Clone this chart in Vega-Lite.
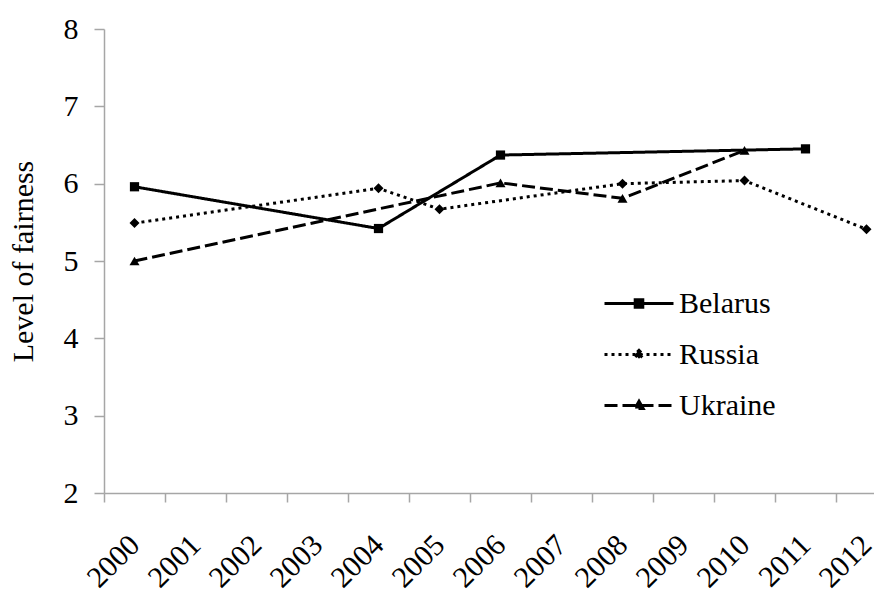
{
  "$schema": "https://vega.github.io/schema/vega-lite/v6.json",
  "width": 770,
  "height": 464,
  "autosize": {"type": "none"},
  "padding": {"left": 104, "top": 29, "right": 0, "bottom": 97},
  "background": "white",
  "config": {"view": {"stroke": null}, "font": "'Liberation Serif', 'Times New Roman', serif"},
  "data": {
    "values": [
      {"country": "Belarus", "year": "2000", "value": 5.96},
      {"country": "Belarus", "year": "2004", "value": 5.42},
      {"country": "Belarus", "year": "2006", "value": 6.37},
      {"country": "Belarus", "year": "2011", "value": 6.45},
      {"country": "Russia", "year": "2000", "value": 5.49},
      {"country": "Russia", "year": "2004", "value": 5.94},
      {"country": "Russia", "year": "2005", "value": 5.67},
      {"country": "Russia", "year": "2008", "value": 6.0},
      {"country": "Russia", "year": "2010", "value": 6.04},
      {"country": "Russia", "year": "2012", "value": 5.41},
      {"country": "Ukraine", "year": "2000", "value": 5.0},
      {"country": "Ukraine", "year": "2006", "value": 6.01},
      {"country": "Ukraine", "year": "2008", "value": 5.81},
      {"country": "Ukraine", "year": "2010", "value": 6.43}
    ]
  },
  "encoding": {
    "x": {
      "field": "year",
      "type": "ordinal",
      "scale": {
        "type": "band",
        "domain": ["2000","2001","2002","2003","2004","2005","2006","2007","2008","2009","2010","2011","2012"],
        "range": [0, 793],
        "paddingInner": 0,
        "paddingOuter": 0
      },
      "axis": {
        "title": null,
        "tickBand": "extent",
        "domainColor": "#a6a6a6",
        "domainWidth": 1.5,
        "tickColor": "#a6a6a6",
        "tickWidth": 1.5,
        "tickSize": 9,
        "labelAngle": -45,
        "labelAlign": "right",
        "labelBaseline": "middle",
        "labelPadding": 38,
        "labelFontSize": 30,
        "labelFont": "'Liberation Serif', 'Times New Roman', serif",
        "labelColor": "black",
        "labelOverlap": false
      }
    },
    "y": {
      "field": "value",
      "type": "quantitative",
      "scale": {"domain": [2, 8], "nice": false, "zero": false},
      "axis": {
        "title": "Level of fairness",
        "titleFont": "'Liberation Serif', 'Times New Roman', serif",
        "titleFontSize": 30,
        "titleFontWeight": "normal",
        "titleColor": "black",
        "titlePadding": 25,
        "values": [2, 3, 4, 5, 6, 7, 8],
        "grid": false,
        "tickSize": 10,
        "domainColor": "#a6a6a6",
        "domainWidth": 1.5,
        "tickColor": "#a6a6a6",
        "tickWidth": 1.5,
        "labelPadding": 16,
        "labelFontSize": 30,
        "labelFont": "'Liberation Serif', 'Times New Roman', serif",
        "labelColor": "black"
      }
    }
  },
  "layer": [
    {
      "mark": {"type": "line", "color": "black", "strokeWidth": 3, "strokeCap": "butt", "strokeJoin": "round"},
      "encoding": {
        "strokeDash": {
          "field": "country",
          "type": "nominal",
          "scale": {"domain": ["Belarus", "Russia", "Ukraine"], "range": [[1, 0], [3, 4], [13, 5]]},
          "legend": {
            "title": null,
            "orient": "none",
            "legendX": 499,
            "legendY": 249,
            "padding": 0,
            "symbolSize": 4761,
            "symbolStrokeWidth": 3,
            "symbolStrokeColor": "black",
            "symbolFillColor": "black",
            "labelFontSize": 30,
            "labelFont": "'Liberation Serif', 'Times New Roman', serif",
            "labelColor": "black",
            "labelOffset": 4,
            "clipHeight": 51,
            "rowPadding": 0,
            "encode": {
              "symbols": {
                "update": {
                  "shape": {"signal": "datum.value === 'Belarus' ? 'M-1,0H1M-0.11,-0.11H0.11V0.11H-0.11Z' : datum.value === 'Russia' ? 'M-1,0H1M0,-0.12L0.12,0L0,0.12L-0.12,0Z' : 'M-1,0H1M0,-0.12L0.12,0.09L-0.12,0.09Z'"},
                  "stroke": {"value": "black"},
                  "strokeWidth": {"value": 3},
                  "strokeOpacity": {"value": 1},
                  "fill": {"value": "black"},
                  "fillOpacity": {"value": 1}
                }
              }
            }
          }
        }
      }
    },
    {
      "transform": [{"filter": "datum.country === 'Belarus'"}],
      "mark": {"type": "point", "filled": true, "color": "black", "opacity": 1, "size": 85, "shape": "square"}
    },
    {
      "transform": [{"filter": "datum.country === 'Russia'"}],
      "mark": {"type": "point", "filled": true, "color": "black", "opacity": 1, "size": 100, "shape": "diamond"}
    },
    {
      "transform": [{"filter": "datum.country === 'Ukraine'"}],
      "mark": {"type": "point", "filled": true, "color": "black", "opacity": 1, "size": 100, "shape": "triangle-up"}
    }
  ]
}
